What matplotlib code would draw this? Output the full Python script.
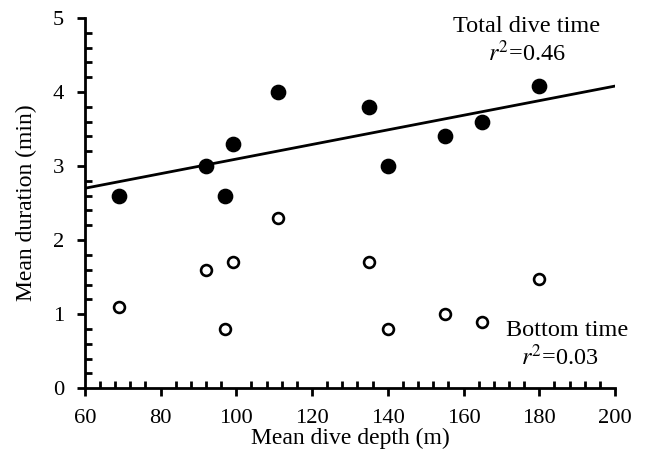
import matplotlib
matplotlib.use("Agg")
import matplotlib.pyplot as plt
from matplotlib.ticker import MultipleLocator

plt.rcParams['font.family'] = ['Liberation Serif', 'DejaVu Serif']
plt.rcParams['mathtext.fontset'] = 'stix'

# mean dive depth (m)
depth = [69, 92, 97, 99, 111, 135, 140, 155, 165, 180]
# total dive time (min)
total_time = [2.6, 3.0, 2.6, 3.3, 4.0, 3.8, 3.0, 3.4, 3.6, 4.08]
# bottom time (min)
bottom_time = [1.1, 1.6, 0.8, 1.7, 2.3, 1.7, 0.8, 1.0, 0.9, 1.48]

# regression line for total dive time
fit_x = [60, 200]
fit_y = [2.7, 4.08]

fig = plt.figure(figsize=(6.48, 4.61), dpi=100)
ax = fig.add_axes([0.131, 0.158, 0.818, 0.803])

ax.plot(fit_x, fit_y, color='black', lw=2)
ax.plot(depth, total_time, 'o', color='black', ms=10.3)
ax.plot(depth, bottom_time, 'o', mfc='white', mec='black', mew=1.9, ms=7.8)

ax.set_xlim(60, 200)
ax.set_ylim(0, 5)
ax.xaxis.set_major_locator(MultipleLocator(20))
ax.xaxis.set_minor_locator(MultipleLocator(4))
ax.yaxis.set_major_locator(MultipleLocator(1))
ax.yaxis.set_minor_locator(MultipleLocator(0.2))
ax.tick_params(which='major', direction='out', length=6, width=2, labelsize=16.2, colors='black')
ax.tick_params(which='minor', direction='in', length=5, width=2)
ax.tick_params(axis='x', which='major', pad=9)
ax.tick_params(axis='y', which='major', pad=9)
for s in ['top', 'right']:
    ax.spines[s].set_visible(False)
for s in ['left', 'bottom']:
    ax.spines[s].set_linewidth(2)

ax.set_xlabel('Mean dive depth (m)', fontsize=17, labelpad=0)
ax.set_ylabel('Mean duration (min)', fontsize=17, labelpad=11)

ax.text(176.7, 4.88, 'Total dive time', fontsize=17.5, ha='center', va='center')
ax.text(176.7, 4.52, '$r^2$=0.46', fontsize=17.5, ha='center', va='center')
ax.text(187.5, 0.78, 'Bottom time', fontsize=17.5, ha='center', va='center')
ax.text(185.5, 0.42, '$r^2$=0.03', fontsize=17.5, ha='center', va='center')

fig.savefig('out.png', dpi=100)
